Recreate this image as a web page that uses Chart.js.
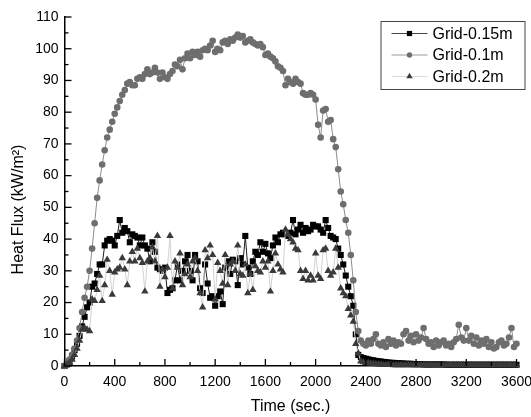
<!DOCTYPE html>
<html>
<head>
<meta charset="utf-8">
<script src="https://cdn.jsdelivr.net/npm/chart.js@4.4.1/dist/chart.umd.min.js"></script>
<style>
    html, body { margin: 0; padding: 0; background: #fff; }
    #heat_flux { display: block; }
</style>
</head>
<body>
<canvas id="heat_flux" width="531" height="417"></canvas>
<script>
// sample times (sec.)
const times = [
    0, 20, 40, 60, 80, 100, 120, 140, 160, 180,
    200, 220, 240, 260, 280, 300, 320, 340, 360, 380,
    400, 420, 440, 460, 480, 500, 520, 540, 560, 580,
    600, 620, 640, 660, 680, 700, 720, 740, 760, 780,
    800, 820, 840, 860, 880, 900, 920, 940, 960, 980,
    1000, 1020, 1040, 1060, 1080, 1100, 1120, 1140, 1160, 1180,
    1200, 1220, 1240, 1260, 1280, 1300, 1320, 1340, 1360, 1380,
    1400, 1420, 1440, 1460, 1480, 1500, 1520, 1540, 1560, 1580,
    1600, 1620, 1640, 1660, 1680, 1700, 1720, 1740, 1760, 1780,
    1800, 1820, 1840, 1860, 1880, 1900, 1920, 1940, 1960, 1980,
    2000, 2020, 2040, 2060, 2080, 2100, 2120, 2140, 2160, 2180,
    2200, 2220, 2240, 2260, 2280, 2300, 2320, 2340, 2360, 2380,
    2400, 2420, 2440, 2460, 2480, 2500, 2520, 2540, 2560, 2580,
    2600, 2620, 2640, 2660, 2680, 2700, 2720, 2740, 2760, 2780,
    2800, 2820, 2840, 2860, 2880, 2900, 2920, 2940, 2960, 2980,
    3000, 3020, 3040, 3060, 3080, 3100, 3120, 3140, 3160, 3180,
    3200, 3220, 3240, 3260, 3280, 3300, 3320, 3340, 3360, 3380,
    3400, 3420, 3440, 3460, 3480, 3500, 3520, 3540, 3560, 3580,
    3600
];

// Grid-0.15m (black squares)
const grid015 = [
    0, 0.5, 1.5, 3, 5, 7, 9.5, 12.5, 15.5, 18.5,
    20, 25, 26, 29, 32, 32, 38, 39.5, 40, 39.5,
    38, 41, 46, 42, 43.5, 42.5, 39, 41.5, 41, 40.5,
    38, 40.5, 38, 37, 33, 39, 36, 31, 30.5, 30,
    31, 23, 24, 24.5, 27, 32, 27, 30, 33, 35,
    30, 27, 35, 33, 24.5, 23, 32, 26, 21.5, 22,
    19, 22, 23.5, 19.5, 31, 33, 29, 33.5, 33, 25.5,
    34, 32, 41, 31, 29, 33, 36, 35, 39, 36,
    38.5, 35.5, 34, 38, 40.5, 39, 41.5, 42, 41.5, 41,
    42, 46, 41.5, 43, 44.5, 42, 43.5, 42.5, 43, 44.5,
    44, 44, 43, 42, 46, 43.5, 41, 40.5, 40, 37,
    35, 32, 28.5, 25, 22, 19, 10, 3.5, 2.8, 2.5,
    2.3, 2.1, 1.9, 1.8, 1.6, 1.5, 1.4, 1.3, 1.2, 1.1,
    1.0, 1.0, 0.9, 0.9, 0.8, 0.8, 0.7, 0.7, 0.7, 0.6,
    0.6, 0.6, 0.6, 0.5, 0.5, 0.5, 0.5, 0.5, 0.5, 0.5,
    0.5, 0.5, 0.4, 0.4, 0.4, 0.4, 0.4, 0.4, 0.4, 0.4,
    0.4, 0.4, 0.4, 0.4, 0.4, 0.4, 0.4, 0.4, 0.4, 0.4,
    0.4, 0.4, 0.4, 0.4, 0.4, 0.4, 0.4, 0.4, 0.4, 0.4,
    0.4
];

// Grid-0.1m (gray circles)
const grid01 = [
    0, 1, 2, 3.5, 5.5, 8, 12, 17, 21.5, 25,
    30, 37, 45, 53, 58.5, 63.5, 68, 72, 74.5, 77,
    79.5, 81.5, 83.5, 85.5, 87, 89, 89.5, 88.5, 88.5, 90.5,
    91, 90.5, 92, 93.5, 92, 92.5, 94, 92.5, 90.5, 92.5,
    91, 90.5, 92, 93, 95, 94.5, 96.5, 93.5, 97, 98.5,
    97, 99, 98, 99, 97.5, 99.5, 100, 99.5, 101, 102.5,
    99, 100, 99.5, 102, 102.5, 101.5, 103, 102.5, 103.5, 104.5,
    103.5, 104, 102, 102.5, 103, 102, 101.5, 101, 101.5, 100.5,
    98, 98.5, 97.5, 97, 96, 94.5, 94, 93, 88.5, 90.5,
    89.5, 89, 90.5, 89.5, 89, 86, 85.5, 85.5, 86, 85.5,
    84, 76, 72, 80.5, 81, 77, 77.5, 71.5, 69, 62,
    55, 51, 46, 42, 35, 27, 17, 11, 8, 7,
    6.5, 8, 7, 8.5, 10, 7, 6.5, 7.5, 6, 8.5,
    7, 8, 6.5, 7.5, 7, 10, 11, 8, 9.5, 7.5,
    10, 8, 9, 12, 8.5, 7, 7.5, 6, 8, 6.5,
    7.5, 8, 6.5, 7, 6, 7.5, 8.5, 13, 9, 8,
    12, 8, 9.5, 7, 9, 6.5, 8, 7, 8.5, 6,
    7.5, 5.5, 6, 7.5, 8, 6.5, 7, 9, 12, 6,
    7
];

// Grid-0.2m (dark triangles)
const grid02 = [
    0, 0.5, 1, 2, 3.5, 5.5, 8, 11.5, 12, 11.5,
    11, 21, 20.5, 24, 28.5, 20.5, 25.5, 33.5, 30, 22.5,
    29.5, 30.5, 31, 34, 30.5, 25.5, 33, 36, 33, 37,
    34, 32.5, 23.5, 33, 34, 37.5, 33, 41, 25, 30.5,
    28, 31, 41, 24.5, 33, 31, 35.5, 25.5, 29, 32,
    28, 33, 34, 30, 23, 18.5, 36.5, 34, 38, 35,
    21, 32.5, 30, 26, 35, 25.5, 32, 33, 30, 38,
    29, 28.5, 32, 23, 29, 24, 31.5, 30, 29.5, 33,
    31, 33, 23.5, 30, 35.5, 32, 30.5, 29.5, 43, 41.5,
    40, 39, 37, 36.5, 30, 27.5, 30, 27, 28.5, 27,
    35.5, 28.5, 27.5, 36.5, 37, 30, 28.5, 29.5, 37, 31,
    24.5, 23, 22, 18, 16, 14, 7, 4, 1.5, 1.2,
    1.0, 0.9, 0.8, 0.7, 0.6, 0.5, 0.5, 0.4, 0.4, 0.4,
    0.4, 0.3, 0.3, 0.3, 0.3, 0.3, 0.3, 0.3, 0.3, 0.3,
    0.3, 0.3, 0.3, 0.3, 0.3, 0.3, 0.3, 0.3, 0.3, 0.3,
    0.3, 0.3, 0.3, 0.3, 0.3, 0.3, 0.3, 0.3, 0.3, 0.3,
    0.3, 0.3, 0.3, 0.3, 0.3, 0.3, 0.3, 0.3, 0.3, 0.3,
    0.3, 0.3, 0.3, 0.3, 0.3, 0.3, 0.3, 0.3, 0.3, 0.3,
    0.3
];

const xTickValues = [0, 400, 800, 1200, 1600, 2000, 2400, 2800, 3200, 3600];
const yTickValues = [0, 10, 20, 30, 40, 50, 60, 70, 80, 90, 100, 110];
const fontFamily = '"Liberation Sans", Arial, sans-serif';

// inward major + minor ticks like the original plot
const insideTicks = {
    id: 'insideTicks',
    afterDraw(chart) {
        const { ctx, chartArea, scales: { x, y } } = chart;
        ctx.save();
        ctx.strokeStyle = '#000';
        ctx.lineWidth = 1.3;
        const tick = (x1, y1, x2, y2) => {
            ctx.beginPath(); ctx.moveTo(x1, y1); ctx.lineTo(x2, y2); ctx.stroke();
        };
        yTickValues.forEach((v, i) => {
            const py = y.getPixelForValue(v);
            tick(chartArea.left, py, chartArea.left + 7, py);
            if (i < yTickValues.length - 1) {
                const pm = y.getPixelForValue((v + yTickValues[i + 1]) / 2);
                tick(chartArea.left, pm, chartArea.left + 4, pm);
            }
        });
        xTickValues.forEach((v, i) => {
            const px = x.getPixelForValue(v);
            tick(px, chartArea.bottom, px, chartArea.bottom - 7);
            if (i < xTickValues.length - 1) {
                const pm = x.getPixelForValue((v + xTickValues[i + 1]) / 2);
                tick(pm, chartArea.bottom, pm, chartArea.bottom - 4);
            }
        });
        ctx.restore();
    }
};

// y title placed a bit below centre, as in the source figure
const yTitle = {
    id: 'yTitle',
    afterDraw(chart) {
        const { ctx, chartArea } = chart;
        ctx.save();
        ctx.translate(chartArea.left - 46, (chartArea.top + chartArea.bottom) / 2 + 18);
        ctx.rotate(-Math.PI / 2);
        ctx.fillStyle = '#000';
        ctx.font = '16px ' + fontFamily;
        ctx.textAlign = 'center';
        ctx.textBaseline = 'middle';
        ctx.fillText('Heat Flux (kW/m\u00B2)', 0, 0);
        ctx.restore();
    }
};

// boxed legend inside the plot, line-marker-line samples
const boxLegend = {
    id: 'boxLegend',
    afterDraw(chart) {
        const { ctx, chartArea } = chart;
        const left = chartArea.right - 136;
        const top = chartArea.top + 4;
        ctx.save();
        ctx.fillStyle = '#fff';
        ctx.fillRect(left, top, 144, 68);
        ctx.strokeStyle = '#444';
        ctx.lineWidth = 1;
        ctx.strokeRect(left + 0.5, top + 0.5, 144, 68);
        chart.data.datasets.forEach((ds, i) => {
            const cy = top + 12.5 + i * 21.5;
            ctx.strokeStyle = ds.legendLine;
            ctx.lineWidth = 1;
            ctx.beginPath();
            ctx.moveTo(left + 11, cy);
            ctx.lineTo(left + 47, cy);
            ctx.stroke();
            ctx.fillStyle = ds.pointBackgroundColor;
            Chart.helpers.drawPoint(ctx, {
                pointStyle: ds.pointStyle, radius: ds.pointRadius - 0.6, rotation: 0, borderWidth: 0
            }, left + 29, cy);
            ctx.fillStyle = '#000';
            ctx.font = '16px ' + fontFamily;
            ctx.textAlign = 'left';
            ctx.textBaseline = 'middle';
            ctx.fillText(ds.label, left + 52, cy + 1);
        });
        ctx.restore();
    }
};

const heat_flux = document.getElementById('heat_flux');

new Chart(heat_flux, {
    type: 'line',
    data: {
        labels: times,
        datasets: [{
            label: 'Grid-0.15m',
            data: grid015,
            borderColor: '#1e1e1e',
            borderWidth: 1,
            pointStyle: 'rect',
            pointRadius: 4.3,
            pointBorderWidth: 0,
            pointBackgroundColor: '#000',
            legendLine: '#444',
            order: 2,
            clip: false
        }, {
            label: 'Grid-0.1m',
            data: grid01,
            borderColor: '#8c8c8c',
            borderWidth: 1,
            pointStyle: 'circle',
            pointRadius: 3.3,
            pointBorderWidth: 0,
            pointBackgroundColor: '#6e6e6e',
            legendLine: '#9a9a9a',
            order: 1,
            clip: false
        }, {
            label: 'Grid-0.2m',
            data: grid02,
            borderColor: '#d2d2d2',
            borderWidth: 1,
            pointStyle: 'triangle',
            pointRadius: 4.3,
            pointBorderWidth: 0,
            pointBackgroundColor: '#3a3a3a',
            legendLine: '#dcdcdc',
            order: 0,
            clip: false
        }]
    },
    options: {
        responsive: false,
        animation: false,
        devicePixelRatio: 1,
        layout: { padding: { top: 17, right: 0, left: 0, bottom: 0 } },
        elements: { line: { tension: 0 } },
        plugins: {
            legend: { display: false },
            tooltip: { enabled: false }
        },
        scales: {
            x: {
                type: 'linear',
                min: 0,
                max: 3600,
                afterBuildTicks: s => { s.ticks = xTickValues.map(v => ({ value: v })); },
                afterFit: s => { s.height = 51; s.paddingRight = 14.5; s.paddingLeft = 0; },
                grid: { display: false, drawTicks: false },
                border: { display: true, color: '#000', width: 1.5 },
                ticks: {
                    color: '#000', padding: 8, maxRotation: 0, autoSkip: false,
                    font: { size: 14, family: fontFamily },
                    callback: v => String(v)
                },
                title: {
                    display: true, text: 'Time (sec.)', color: '#000',
                    font: { size: 16, family: fontFamily },
                    padding: { top: 0, bottom: 1 }
                }
            },
            y: {
                min: 0,
                max: 110,
                afterBuildTicks: s => { s.ticks = yTickValues.map(v => ({ value: v })); },
                afterFit: s => { s.width = 64.5; s.paddingTop = 0; s.paddingBottom = 0; },
                grid: { display: false, drawTicks: false },
                border: { display: true, color: '#000', width: 1.5 },
                ticks: {
                    color: '#000', padding: 6,
                    font: { size: 14, family: fontFamily },
                    callback: v => String(v)
                }
            }
        }
    },
    plugins: [insideTicks, yTitle, boxLegend]
});
</script>
</body>
</html>
